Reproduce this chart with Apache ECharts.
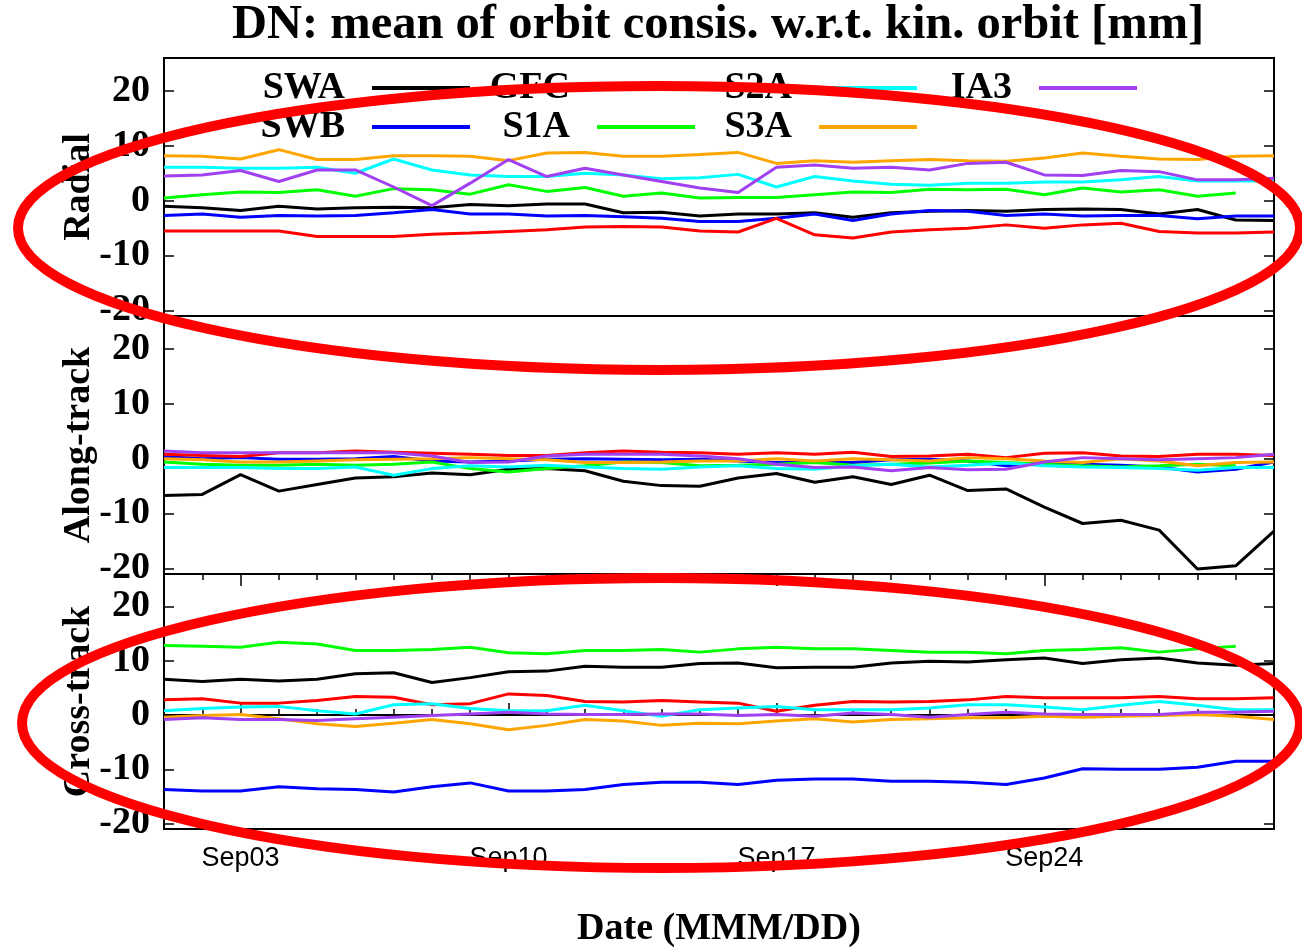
<!DOCTYPE html>
<html>
<head>
<meta charset="utf-8">
<script src="https://cdn.jsdelivr.net/npm/echarts@6/dist/echarts.min.js"></script>
<style>
html,body{margin:0;padding:0;background:#fff;}
#chart{width:1302px;height:949px;}
</style>
</head>
<body>
<div id="chart"></div>
<script>
// ---- categories / tick labels ----
const dates = ['Sep01','Sep02','Sep03','Sep04','Sep05','Sep06','Sep07','Sep08','Sep09','Sep10',
  'Sep11','Sep12','Sep13','Sep14','Sep15','Sep16','Sep17','Sep18','Sep19','Sep20',
  'Sep21','Sep22','Sep23','Sep24','Sep25','Sep26','Sep27','Sep28','Sep29','Sep30'];
const xTickLabels = ['Sep03','Sep10','Sep17','Sep24'];
const satNames = ['SWA','SWB','GFC','S1A','S2A','S3A','IA3'];
const panelNames = ['Radial','Along-track','Cross-track'];

// ---- Radial ----
const radialSWA = [-1.0,-1.3,-1.8,-1.0,-1.5,-1.3,-1.2,-1.3,-0.7,-0.9,-0.6,-0.6,-2.2,-2.1,-2.8,-2.4,-2.4,-2.2,-3.0,-2.2,-1.9,-1.8,-1.9,-1.6,-1.5,-1.6,-2.4,-1.6,-3.5,-3.6];
const radialSWB = [-2.7,-2.4,-3.0,-2.7,-2.8,-2.7,-2.2,-1.6,-2.4,-2.4,-2.8,-2.7,-2.9,-3.2,-3.8,-3.8,-3.2,-2.4,-3.6,-2.4,-1.8,-1.9,-2.7,-2.4,-2.8,-2.7,-2.7,-3.3,-2.8,-2.8];
const radialGFC = [-5.5,-5.5,-5.5,-5.5,-6.5,-6.5,-6.5,-6.1,-5.9,-5.6,-5.3,-4.8,-4.7,-4.8,-5.5,-5.7,-3.2,-6.2,-6.8,-5.7,-5.3,-5.0,-4.4,-5.0,-4.4,-4.1,-5.6,-5.9,-5.9,-5.7];
const radialS1A = [0.5,1.1,1.6,1.5,2.0,0.8,2.2,2.0,1.2,2.9,1.7,2.4,0.8,1.4,0.5,0.6,0.6,1.1,1.6,1.5,2.1,2.0,2.1,1.1,2.3,1.6,2.0,0.8,1.4,null];
const radialS2A = [6.1,6.1,5.9,5.9,6.1,5.0,7.6,5.6,4.7,4.4,4.4,5.0,4.7,4.0,4.2,4.8,2.5,4.4,3.6,3.0,2.8,3.2,3.2,3.4,3.4,3.8,4.4,3.6,3.6,3.6];
const radialS3A = [8.2,8.1,7.6,9.3,7.5,7.5,8.2,8.2,8.1,7.3,8.7,8.8,8.1,8.1,8.4,8.8,6.8,7.3,7.0,7.3,7.5,7.3,7.2,7.8,8.7,8.1,7.6,7.5,8.1,8.2];
const radialIA3 = [4.5,4.7,5.5,3.5,5.6,5.6,2.5,-0.9,3.2,7.5,4.4,5.9,4.7,3.5,2.3,1.5,6.1,6.5,5.9,6.1,5.6,6.8,7.0,4.7,4.6,5.5,5.3,3.8,3.8,4.1];

// ---- Along-track ----
const alongSWA = [-6.7,-6.5,-2.9,-5.9,-4.7,-3.5,-3.3,-2.6,-2.9,-1.9,-1.8,-2.2,-4.1,-4.9,-5.0,-3.5,-2.7,-4.3,-3.3,-4.7,-3.0,-5.8,-5.5,-8.8,-11.8,-11.2,-13.0,-20.1,-19.5,-13.2];
const alongSWB = [0.4,0.0,0.2,-0.1,-0.1,0.0,0.4,-0.4,-0.6,-0.4,-0.1,0.0,-0.1,-0.2,-0.1,-0.4,-0.7,-0.7,-0.7,-0.2,-0.1,-0.4,-1.3,-0.7,-1.0,-1.2,-1.5,-2.4,-1.9,-0.6];
const alongGFC = [0.8,0.6,0.4,1.1,1.1,1.4,1.2,1.0,0.8,0.6,0.6,1.1,1.4,1.2,1.1,0.8,1.1,0.8,1.2,0.4,0.5,0.8,0.2,1.0,1.1,0.5,0.4,0.8,0.8,0.6];
const alongS1A = [-0.6,-1.0,-1.2,-1.2,-1.0,-1.2,-1.0,-0.6,-1.8,-2.4,-1.8,-1.3,-0.6,-0.7,-1.3,-1.2,-1.0,-0.7,-1.2,-1.0,-0.8,-0.4,-0.7,-1.0,-1.3,-1.5,-1.3,-1.0,-1.3,null];
const alongS2A = [-1.6,-1.6,-1.6,-1.8,-1.8,-1.5,-3.0,-1.8,-1.3,-1.5,-1.2,-1.5,-1.8,-1.9,-1.5,-1.3,-1.8,-1.9,-1.3,-1.0,-1.5,-1.2,-0.8,-1.3,-1.5,-1.6,-1.8,-2.1,-1.6,-1.6];
const alongS3A = [0.0,-0.2,-0.6,-0.6,-0.4,-0.2,-0.1,0.0,0.2,0.0,-0.2,-0.7,-0.7,-0.6,-0.4,-0.4,0.0,-0.4,0.0,-0.2,-0.4,0.2,0.0,-0.4,-0.7,0.0,-0.4,-1.3,-0.7,-0.6];
const alongIA3 = [1.4,1.1,1.1,1.1,1.1,1.1,1.1,0.5,-0.7,-0.6,0.5,0.8,0.8,0.8,0.5,0.0,-1.0,-1.6,-1.5,-2.2,-1.6,-2.0,-1.9,-0.6,0.2,0.0,-0.2,0.0,0.2,0.8];

// ---- Cross-track ----
const crossSWA = [6.6,6.2,6.6,6.3,6.6,7.6,7.8,6.0,6.9,8.0,8.1,9.0,8.8,8.8,9.5,9.6,8.7,8.8,8.8,9.6,9.9,9.8,10.2,10.5,9.5,10.2,10.5,9.6,9.2,9.5];
const crossSWB = [-13.7,-14.0,-14.0,-13.2,-13.6,-13.7,-14.2,-13.2,-12.5,-14.0,-14.0,-13.7,-12.8,-12.4,-12.4,-12.8,-12.0,-11.8,-11.8,-12.2,-12.2,-12.4,-12.8,-11.6,-9.9,-10.0,-10.0,-9.6,-8.5,-8.5];
const crossGFC = [2.8,3.0,2.2,2.2,2.7,3.4,3.3,1.9,2.1,3.9,3.6,2.5,2.4,2.7,2.4,2.2,0.7,1.8,2.5,2.4,2.5,2.8,3.4,3.2,3.2,3.2,3.4,3.0,3.0,3.2];
const crossS1A = [12.8,12.7,12.5,13.4,13.1,11.9,11.9,12.1,12.5,11.5,11.3,11.9,11.9,12.1,11.6,12.2,12.5,12.2,12.2,11.9,11.6,11.6,11.3,11.9,12.1,12.4,11.6,12.2,12.7,null];
const crossS2A = [0.8,1.2,1.5,1.6,0.8,0.2,1.9,2.1,1.2,0.8,0.8,1.8,0.8,-0.2,1.0,1.3,1.6,1.0,1.0,1.0,1.3,1.9,1.9,1.5,1.0,1.8,2.5,1.8,1.0,1.0];
const crossS3A = [-0.4,-0.1,0.1,-0.7,-1.6,-2.1,-1.5,-0.8,-1.6,-2.7,-1.9,-0.8,-1.1,-1.9,-1.5,-1.6,-1.1,-0.7,-1.3,-0.8,-0.7,-0.5,-0.5,-0.2,-0.4,-0.2,-0.1,0.1,-0.2,-0.8];
const crossIA3 = [-0.8,-0.5,-0.8,-0.8,-1.0,-0.7,-0.4,-0.1,0.2,0.5,0.2,0.1,0.1,0.2,0.2,-0.1,0.1,-0.2,0.4,0.1,-0.4,0.1,0.5,0.2,0.1,0.1,0.1,0.5,0.5,0.7];

const panelData = [
  [radialSWA, radialSWB, radialGFC, radialS1A, radialS2A, radialS3A, radialIA3],
  [alongSWA, alongSWB, alongGFC, alongS1A, alongS2A, alongS3A, alongIA3],
  [crossSWA, crossSWB, crossGFC, crossS1A, crossS2A, crossS3A, crossIA3]
];
const satColors = ['#000000','#0000ff','#ff0000','#00ff00','#00ffff','#ffa500','#a040f0'];

const SERIF = 'Liberation Serif';
const SANS = 'Liberation Sans';
const gridTops = [58, 316, 574];
const gridH = 258;

const grids = gridTops.map(t => ({
  left: 164, right: 28, top: t, height: gridH,
  show: true, borderColor: '#000', borderWidth: 2, backgroundColor: 'transparent',
  containLabel: false
}));

const isMajor = (idx) => xTickLabels.indexOf(dates[idx]) >= 0;

const xAxes = [];
for (let g = 0; g < 2; g++) {
  xAxes.push({
    type: 'category', gridIndex: g, data: dates, boundaryGap: false,
    axisLine: {show: false}, axisTick: {show: false}, axisLabel: {show: false}, splitLine: {show: false}
  });
}
xAxes.push({
  type: 'category', gridIndex: 2, data: dates, boundaryGap: false, position: 'bottom',
  axisLine: {show: true, lineStyle: {color: '#000', width: 2}},
  axisTick: {show: true, inside: true, length: 6, interval: 0, lineStyle: {color: '#000', width: 1.5}},
  axisLabel: {
    show: true, interval: (i, v) => xTickLabels.indexOf(v) >= 0,
    fontFamily: SANS, fontSize: 27, color: '#000', margin: 16
  },
  name: 'Date (MMM/DD)', nameLocation: 'middle', nameGap: 81, nameMoveOverlap: false,
  nameTextStyle: {fontFamily: SERIF, fontWeight: 'bold', fontSize: 38, color: '#000'},
  splitLine: {show: false}
});
xAxes.push({
  type: 'category', gridIndex: 2, data: dates, boundaryGap: false, position: 'bottom',
  axisLine: {show: false},
  axisTick: {show: true, inside: true, length: 12, interval: (i) => isMajor(i), lineStyle: {color: '#000', width: 1.5}},
  axisLabel: {show: false}, splitLine: {show: false}
});
xAxes.push({
  type: 'category', gridIndex: 2, data: dates, boundaryGap: false, position: 'top',
  axisLine: {show: false},
  axisTick: {show: true, inside: true, length: 6, interval: 0, lineStyle: {color: '#000', width: 1.5}},
  axisLabel: {show: false}, splitLine: {show: false}
});
xAxes.push({
  type: 'category', gridIndex: 2, data: dates, boundaryGap: false, position: 'top',
  axisLine: {show: false},
  axisTick: {show: true, inside: true, length: 12, interval: (i) => isMajor(i), lineStyle: {color: '#000', width: 1.5}},
  axisLabel: {show: false}, splitLine: {show: false}
});

const yAxes = [];
for (let g = 0; g < 3; g++) {
  yAxes.push({
    type: 'value', gridIndex: g, position: 'left', min: -21, max: 26, splitNumber: 5,
    axisLine: {show: true, lineStyle: {color: '#000', width: 2}},
    axisTick: {show: true, inside: true, length: 10, lineStyle: {color: '#000', width: 1.5}},
    axisLabel: {show: true, showMinLabel: false, showMaxLabel: false, fontFamily: SERIF, fontWeight: 'bold',
      fontSize: 38, color: '#000', margin: 14},
    splitLine: {show: false},
    name: panelNames[g], nameLocation: 'middle', nameGap: 66, nameRotate: 90, nameMoveOverlap: false,
    nameTextStyle: {fontFamily: SERIF, fontWeight: 'bold', fontSize: 38, color: '#000'}
  });
}
for (let g = 0; g < 3; g++) {
  yAxes.push({
    type: 'value', gridIndex: g, position: 'right', min: -21, max: 26, splitNumber: 5,
    axisLine: {show: false},
    axisTick: {show: true, inside: true, length: 10, lineStyle: {color: '#000', width: 1.5}},
    axisLabel: {show: false}, splitLine: {show: false}
  });
}

const series = [];
for (let g = 0; g < 3; g++) {
  for (let s = 0; s < satNames.length; s++) {
    series.push({
      name: satNames[s], type: 'line', xAxisIndex: g, yAxisIndex: g,
      data: panelData[g][s], symbol: 'none', showSymbol: false,
      color: satColors[s],
      lineStyle: {color: satColors[s], width: 3},
      itemStyle: {color: satColors[s]},
      z: 2 + s * 0.1, connectNulls: false
    });
  }
}

const legendBase = {
  orient: 'vertical', align: 'right', icon: 'rect', itemWidth: 98, itemHeight: 4,
  itemGap: 1, padding: 0, top: 69, selectedMode: false,
  textStyle: {fontFamily: SERIF, fontWeight: 'bold', fontSize: 38, color: '#000',
    lineHeight: 38, padding: [0, 22, 0, 0]}
};
const legendCols = [['SWA','SWB'], ['GFC','S1A'], ['S2A','S3A'], ['IA3']];
const legendRights = [832, 607, 385, 165];
const legends = legendCols.map((c, i) => Object.assign({}, legendBase, {data: c, right: legendRights[i]}));

const option = {
  animation: false,
  backgroundColor: '#fff',
  title: {
    text: 'DN: mean of orbit consis. w.r.t. kin. orbit [mm]',
    left: 232, top: 1, padding: 0,
    textStyle: {fontFamily: SERIF, fontWeight: 'bold', fontSize: 48.5, color: '#000'}
  },
  legend: legends,
  grid: grids,
  xAxis: xAxes,
  yAxis: yAxes,
  series: series,
  graphic: [
    {type: 'ellipse', z: 100, silent: true,
     shape: {cx: 659, cy: 228, rx: 641, ry: 142},
     style: {fill: null, stroke: '#ff0000', lineWidth: 10}},
    {type: 'ellipse', z: 100, silent: true,
     shape: {cx: 661, cy: 723, rx: 639, ry: 145},
     style: {fill: null, stroke: '#ff0000', lineWidth: 10}}
  ]
};

const chart = echarts.init(document.getElementById('chart'), null, {renderer: 'canvas'});
chart.setOption(option);
</script>
</body>
</html>
